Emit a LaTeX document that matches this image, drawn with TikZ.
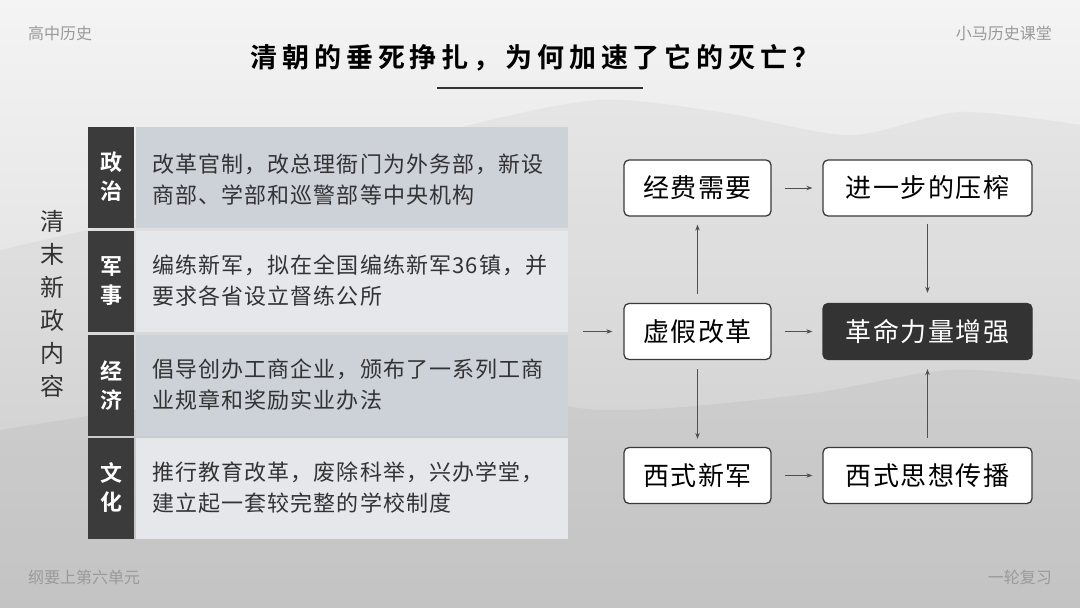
\documentclass[tikz,border=0pt]{standalone}
\usepackage{fontspec}
\setmainfont{Noto Sans CJK SC}
\newfontfamily\titlefont[LetterSpace=18,UprightFont={* Bold}]{Noto Sans CJK SC}
\newfontfamily\headfont[UprightFont={* Bold}]{Noto Sans CJK SC}
\newfontfamily\bodyfont[LetterSpace=5]{Noto Sans CJK SC}
\newfontfamily\boxfont[LetterSpace=6]{Noto Sans CJK SC}
\usepackage{tikz}
\usetikzlibrary{positioning,arrows.meta}

\definecolor{bgtop}{HTML}{F4F4F4}
\definecolor{bgbot}{HTML}{D2D2D2}
\definecolor{headgray}{HTML}{3B3B3B}
\definecolor{rowdark}{HTML}{CDD1D8}
\definecolor{rowlight}{HTML}{E5E7EB}
\definecolor{textgray}{HTML}{333333}
\definecolor{boxline}{HTML}{3A3A3A}
\definecolor{boxdark}{HTML}{333333}
\definecolor{arrowgray}{HTML}{505050}
\definecolor{notegray}{HTML}{9A9A9A}

\begin{document}
\begin{tikzpicture}[x=1pt,y=-1pt,
    cellhead/.style={fill=headgray,minimum width=46pt,minimum height=101pt,inner sep=0pt,
      text=white,align=center,font=\headfont\fontsize{22}{29}\selectfont},
    cellbody/.style={minimum width=432pt,minimum height=101pt,inner sep=0pt},
    celltext/.style={anchor=west,align=left,inner sep=0pt,text=textgray,
      font=\bodyfont\fontsize{22}{31}\selectfont},
    flowbox/.style={draw=boxline,line width=1.3pt,rounded corners=5pt,fill=white,
      minimum height=56pt,inner sep=0pt,font=\boxfont\fontsize{26}{30}\selectfont},
    darkbox/.style={flowbox,fill=boxdark,draw=boxdark,text=white},
    note/.style={text=notegray,inner sep=0pt,font=\fontsize{16}{18}\selectfont},
    arr/.style={-{Stealth[length=6pt,width=4.5pt]},line width=0.9pt,draw=arrowgray}]
  \useasboundingbox (0,0) rectangle (1080,608);
  \fill[top color=bgtop,bottom color=bgbot] (0,0) rectangle (1080,608);
  \fill[gray,opacity=0.08] plot[smooth] coordinates {(0,250) (150,215) (320,170) (470,125) (600,100) (720,112) (850,135) (960,112) (1080,125)}
    -- (1080,608) -- (0,608) -- cycle;
  \fill[gray,opacity=0.10] plot[smooth] coordinates {(0,430) (200,400) (420,380) (600,410) (800,395) (950,370) (1080,380)}
    -- (1080,608) -- (0,608) -- cycle;

  % header and footer
  \node[note,anchor=west] (course) at (28,33) {高中历史};
  \node[note,anchor=east] (channel) at (1052,33) {小马历史课堂};
  \node[note,anchor=west] (unit) at (28,577) {纲要上第六单元};
  \node[note,anchor=east] (review) at (1052,577) {一轮复习};
  \node[inner sep=0pt,font=\titlefont\fontsize{27}{30}\selectfont] (title) at (535,58) {清朝的垂死挣扎，为何加速了它的灭亡？};
  \draw[line width=1.3pt,draw=textgray] (437,88) -- (643,88);

  % table
  \node[align=center,inner sep=0pt,text=textgray,font=\fontsize{24}{33}\selectfont] (label) at (52,304)
    {清\\末\\新\\政\\内\\容};
  \node[cellbody,fill=rowdark] (polbody) at (352,177) {};
  \node[cellhead] (polhead) at (111,177) {政\\治};
  \node[celltext] (poltext) at (152,180) {改革官制，改总理衙门为外务部，新设\\商部、学部和巡警部等中央机构};
  \node[cellbody,fill=rowlight] (milbody) at (352,281) {};
  \node[cellhead] (milhead) at (111,281) {军\\事};
  \node[celltext] (miltext) at (152,281) {编练新军，拟在全国编练新军36镇，并\\要求各省设立督练公所};
  \node[cellbody,fill=rowdark] (ecobody) at (352,385) {};
  \node[cellhead] (ecohead) at (111,385) {经\\济};
  \node[celltext] (ecotext) at (152,385) {倡导创办工商企业，颁布了一系列工商\\业规章和奖励实业办法};
  \node[cellbody,fill=rowlight] (culbody) at (352,488) {};
  \node[cellhead] (culhead) at (111,488) {文\\化};
  \node[celltext] (cultext) at (152,488) {推行教育改革，废除科举，兴办学堂，\\建立起一套较完整的学校制度};
  \coordinate (tabout) at (568,331.5);

  % flow
  \node[flowbox,minimum width=147pt] (fee) at (697.5,188) {经费需要};
  \node[flowbox,minimum width=209pt] (press) at (927.5,188) {进一步的压榨};
  \node[flowbox,minimum width=147pt] (fake) at (697.5,331.5) {虚假改革};
  \node[darkbox,minimum width=209pt] (power) at (927.5,331.5) {革命力量增强};
  \node[flowbox,minimum width=147pt] (army) at (697.5,475.5) {西式新军};
  \node[flowbox,minimum width=209pt] (idea) at (927.5,475.5) {西式思想传播};

  \draw[arr,shorten <=15pt,shorten >=11pt] (tabout) -- (fake.west);
  \draw[arr,shorten <=13pt,shorten >=10pt] (fee) -- (press);
  \draw[arr,shorten <=13pt,shorten >=10pt] (fake) -- (power);
  \draw[arr,shorten <=13pt,shorten >=10pt] (army) -- (idea);
  \draw[arr,shorten <=9pt,shorten >=8pt] (fake) -- (fee);
  \draw[arr,shorten <=9pt,shorten >=8pt] (fake) -- (army);
  \draw[arr,shorten <=7pt,shorten >=10pt] (press) -- (power);
  \draw[arr,shorten <=9pt,shorten >=9pt] (idea) -- (power);
\end{tikzpicture}
\end{document}
